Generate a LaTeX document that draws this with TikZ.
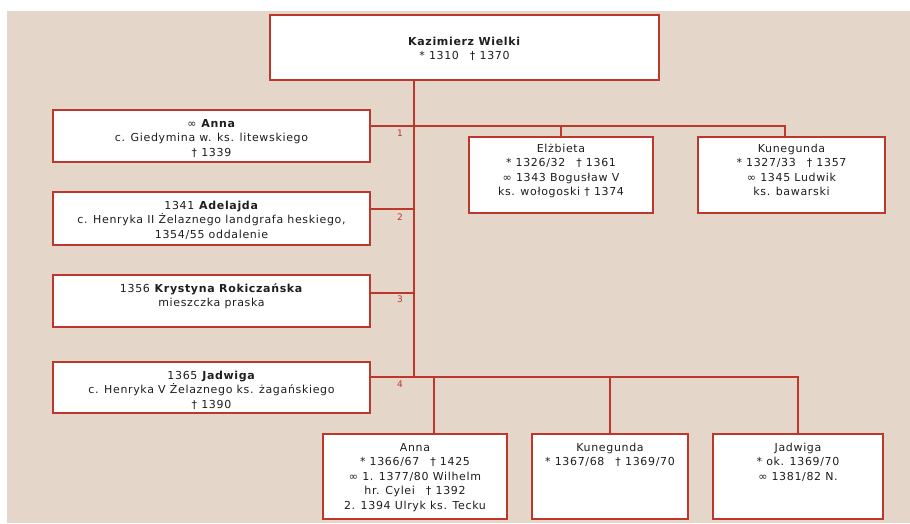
\documentclass[tikz,border=0pt]{standalone}
\usepackage{fontspec}
\setmainfont[LetterSpace=6]{DejaVu Sans}
\usetikzlibrary{calc}
\definecolor{kred}{RGB}{190,55,45}
\definecolor{bgc}{RGB}{228,214,200}
\definecolor{txt}{RGB}{30,30,30}
\newcommand\mar{∞}
\newcommand\dg{†}
\newcommand\bcontent[4]{\parbox[c][#2pt][t]{#1pt}{\centering\vspace*{#3pt}\fontsize{11}{14.5}\selectfont\strut #4\par}}
\tikzset{
  box/.style={draw=kred, line width=2pt, fill=white, inner sep=0pt, outer sep=0pt, text=txt},
  conn/.style={draw=kred, line width=1.5pt},
  num/.style={text=kred, font=\fontsize{9}{9}\selectfont, inner sep=0pt}
}
\begin{document}
\begin{tikzpicture}[x=1pt,y=-1pt]
\useasboundingbox (0,0) rectangle (910,523);
\fill[white] (0,0) rectangle (910,523);
\fill[bgc] (7,11) rectangle (910,523);
% boxes
\node[box] (kaz) at (464.5,47.5) {\bcontent{389}{65}{20}{\textbf{Kazimierz Wielki}\\ {*} 1310\quad \dg\ 1370}};
\node[box] (w1) at (211.5,136) {\bcontent{317}{52}{7}{\mar\ \textbf{Anna}\\ c. Giedymina w. ks. litewskiego\\ \dg\ 1339}};
\node[box] (w2) at (211.5,218.5) {\bcontent{317}{53}{7}{1341 \textbf{Adelajda}\\ c. Henryka II Żelaznego landgrafa heskiego,\\ 1354/55 oddalenie}};
\node[box] (w3) at (211.5,301) {\bcontent{317}{52}{7}{1356 \textbf{Krystyna Rokiczańska}\\ mieszczka praska}};
\node[box] (w4) at (211.5,387.5) {\bcontent{317}{51}{7}{1365 \textbf{Jadwiga}\\ c. Henryka V Żelaznego ks. żagańskiego\\ \dg\ 1390}};
\node[box] (elz) at (561,175) {\bcontent{184}{76}{5}{Elżbieta\\ {*} 1326/32\quad \dg\ 1361\\ \mar\ 1343 Bogusław V\\ ks. wołogoski \dg\ 1374}};
\node[box] (kun1) at (791.5,175) {\bcontent{187}{76}{5}{Kunegunda\\ {*} 1327/33\quad \dg\ 1357\\ \mar\ 1345 Ludwik\\ ks. bawarski}};
\node[box] (anna2) at (415,476.5) {\bcontent{184}{85}{7}{Anna\\ {*} 1366/67\quad \dg\ 1425\\ \mar\ 1. 1377/80 Wilhelm\\ hr. Cylei\quad \dg\ 1392\\ 2. 1394 Ulryk ks. Tecku}};
\node[box] (kun2) at (610,476.5) {\bcontent{156}{85}{7}{Kunegunda\\ {*} 1367/68\quad \dg\ 1369/70}};
\node[box] (jad2) at (798,476.5) {\bcontent{170}{85}{7}{Jadwiga\\ {*} ok. 1369/70\\ \mar\ 1381/82 N.}};
% junction coordinates
\coordinate (j1) at (414,126);
\coordinate (j2) at (414,209);
\coordinate (j3) at (414,293);
\coordinate (j4) at (414,377);
\coordinate (k1top) at (785,137);
\coordinate (a2top) at (434,434);
% connectors
\draw[conn] (kaz.south -| j1) -- (j4);
\draw[conn] (w1.east |- j1) -| (k1top);
\draw[conn] (elz.north) -- (elz.north |- j1);
\draw[conn] (w2.east |- j2) -- (j2);
\draw[conn] (w3.east |- j3) -- (j3);
\draw[conn] (w4.east |- j4) -| (jad2.north);
\draw[conn] (kun2.north) -- (kun2.north |- j4);
\draw[conn] (a2top) -- (a2top |- j4);
% numbers
\node[num] (n1) at (400,133) {1};
\node[num] (n2) at (400,217) {2};
\node[num] (n3) at (400,299) {3};
\node[num] (n4) at (400,384) {4};
\end{tikzpicture}
\end{document}
